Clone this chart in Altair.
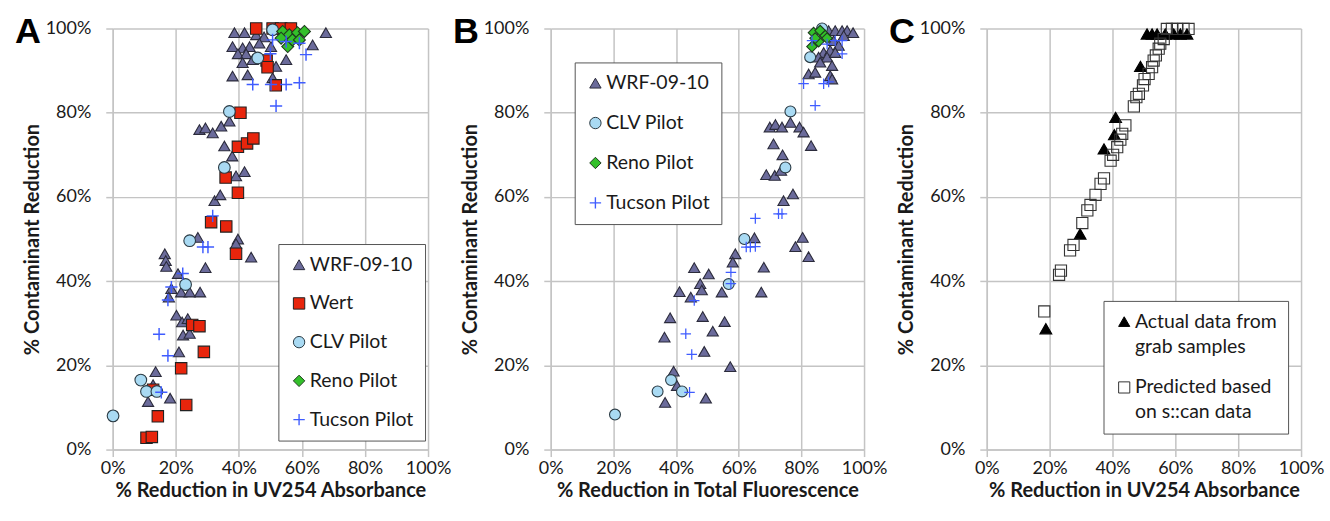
import altair as alt
import pandas as pd

# ---------------- Panel A : % Reduction in UV254 Absorbance ----------------
A_WRF_X = [38.6, 41.8, 45.5, 48, 67.6, 38, 41.2, 43.4, 39.7, 42.3, 46.5, 50.2, 41.2, 44.4, 63.4,
           55, 51.8, 38, 42.8, 50.7, 27.5, 29.4, 31.7, 34.4, 37, 35.4, 37.9, 39.1, 41.8, 32.3,
           34.1, 27, 39.7, 43.9, 39.1, 29.4, 16.5, 16.8, 17, 20.7, 18.6, 21.7, 24.4, 27.7, 17.8,
           20.2, 22, 23.8, 22.3, 24.4, 21, 13.6, 12.8, 11.2, 18.2]
A_WRF_Y = [99, 99, 98.5, 98, 99, 95.7, 95.4, 95.7, 94, 94, 96.5, 95.7, 91.9, 92.6, 96.1,
           92.6, 91, 88.7, 89, 88.3, 76, 76.4, 75.2, 76.8, 78, 72.1, 69.7, 65, 66, 59.1,
           60.5, 50.4, 50, 45.7, 48.9, 43.2, 46.5, 44.9, 43.5, 41.8, 38.2, 37.4, 37.4, 37.4, 36.2,
           31.9, 30.3, 31.1, 27.2, 27.6, 23.2, 18.5, 15.4, 11.4, 12.2]
A_WERT_X = [45.5, 50.7, 53.4, 56.5, 48.8, 49.1, 51.7, 40.5, 39.7, 42.6, 44.6, 35.8, 39.7, 31.2, 36,
            39.1, 25.2, 27.5, 28.9, 21.7, 23.3, 14.3, 10.7, 12.4, 12.8]
A_WERT_Y = [100, 100, 100, 100, 92.4, 90.8, 86.5, 80, 71.9, 72.7, 73.9, 64.6, 61, 54, 53,
            46.5, 29.6, 29.3, 23.2, 19.3, 10.6, 7.9, 2.8, 3, 14.2]
A_CLV_X = [50.7, 46, 37, 35.4, 24.4, 23.1, 8.9, 10.7, 14, 0.1]
A_CLV_Y = [99.7, 93, 80.3, 67, 49.6, 39.2, 16.5, 13.8, 13.8, 8]
A_RENO_X = [53.9, 56, 58.6, 60.8, 55.5, 57, 59.2, 53.4]
A_RENO_Y = [99.3, 98.5, 99, 99.3, 95.7, 97.3, 97.3, 97.7]
A_TUC_X = [50.7, 55, 59.2, 61.3, 50, 44.4, 50.2, 55, 59.2, 51.8, 31.7, 28.6, 30.2, 22.2, 18.6,
           17.5, 14.7, 17.5, 15.4]
A_TUC_Y = [97.3, 96.9, 96.5, 93.8, 94, 86.7, 86.7, 86.7, 87.1, 81.6, 55.5, 48.1, 48.1, 41.8, 38.6,
           35.5, 27.4, 22.3, 13.6]

# ---------------- Panel B : % Reduction in Total Fluorescence ----------------
B_WRF_X = [69.9, 71.7, 73.8, 76.5, 79.4, 80.7, 83.1, 71.1, 74, 68.8, 71.5, 73.5, 74.3, 77.3, 80.4,
           78.1, 82.3, 65, 58.9, 58.1, 68, 67.2, 45.8, 50.4, 47.7, 48.2, 41.1, 44.7, 54.6, 38.1,
           48.5, 55.5, 36.3, 51.7, 49, 57.3, 39.2, 40.3, 36.5, 49.5,
           88.7, 90.8, 93, 94.6, 96.5, 93.5, 90.3, 91.9, 87.1, 89.2, 85.5, 88.2, 86, 89.8, 82.3,
           84.4, 89.2, 90.8, 89.8]
B_WRF_Y = [76.6, 77.2, 76.6, 77.7, 76.6, 75.4, 72.2, 72.6, 70, 65.3, 65.1, 66.3, 59.1, 60.7, 50.4,
           48.2, 45.8, 50.3, 46.5, 44.5, 43.3, 37.4, 43.2, 41.7, 39.4, 37.9, 37.5, 36.2, 37.4, 31.3,
           31.6, 30.4, 26.7, 28.1, 23.3, 19.7, 18.6, 15.2, 11.2, 12.2,
           99.5, 99.5, 99.5, 99.5, 99, 98.3, 97.1, 96, 94.3, 94.8, 93.2, 93.2, 92, 91.2, 89.2,
           89.6, 88.8, 94.3, 88]
B_CLV_X = [86.6, 82.8, 76.5, 74.9, 61.8, 56.8, 38.4, 34.1, 41.9, 20.5]
B_CLV_Y = [100, 93.2, 80.3, 67, 50, 39.3, 16.5, 13.8, 13.8, 8.3]
B_RENO_X = [83.9, 86, 87.6, 83.4, 85.5, 88.2, 84.4]
B_RENO_Y = [99, 99.5, 98.3, 95.7, 96.9, 97.7, 97.7]
B_TUC_X = [83.4, 88.2, 90.8, 93, 93, 80.7, 87.1, 88.7, 84.4, 65.3, 72.7, 73.8, 62.4, 63.7, 65.3,
           57.5, 57.5, 45.8, 43.1, 45, 44.3]
B_TUC_Y = [97.1, 96.3, 97.1, 97.1, 94, 86.9, 86.9, 87.3, 81.7, 54.9, 56, 56, 48.1, 48.1, 48.2,
           42.1, 39.4, 35.4, 27.5, 22.6, 13.6]

# ---------------- Panel C : actual vs predicted ----------------
C_ACT_X = [51, 52.6, 54.2, 56.8, 59.5, 61.6, 63.7, 48.9, 41, 40.6, 37.3, 29.7, 18.8]
C_ACT_Y = [98.7, 98.7, 98.7, 98.7, 98.7, 98.7, 98.7, 91, 78.9, 74.8, 71.4, 51.2, 28.7]
C_PRED_X = [18.3, 23, 23.6, 26.5, 27.6, 30.4, 32, 33, 34.6, 36.2, 37.3, 39.4, 40.2, 41.5, 42.5,
            43.1, 44.1, 46.8, 47.6, 48.4, 49.7, 50.2, 51.5, 52.6, 53.1, 53.8, 54.7, 56.3, 57.3, 58.9,
            60.5, 62.6, 64.2, 55.2]
C_PRED_Y = [32.8, 41.5, 42.5, 47.3, 48.6, 53.8, 56.8, 58.1, 60.5, 63.1, 64.4, 68.6, 70, 71.8, 73.6,
            75, 77, 81.5, 83.7, 84.5, 86.5, 88, 89.2, 90.8, 92.4, 93.6, 95.2, 97.5, 99.9, 99.9,
            99.9, 99.9, 99.9, 96.4]

TICKS = [0, 20, 40, 60, 80, 100]
SERIES_A = ["WRF-09-10", "Wert", "CLV Pilot", "Reno Pilot", "Tucson Pilot"]
SERIES_B = ["WRF-09-10", "CLV Pilot", "Reno Pilot", "Tucson Pilot"]
SERIES_C = ["Actual data from|grab samples", "Predicted based|on s::can data"]
X_TITLES = ["% Reduction in UV254 Absorbance", "% Reduction in Total Fluorescence",
            "% Reduction in UV254 Absorbance"]
Y_TITLE = "% Contaminant Reduction"
LETTERS = ["A", "B", "C"]

# thin filled cross for the Tucson series
PLUS = "M-1,-0.12H-0.12V-1H0.12V-0.12H1V0.12H0.12V1H-0.12V0.12H-1Z"
STYLE = {
    "WRF-09-10": ("triangle-up", "#6b6b9b", "#2b2b3b", 125),
    "Wert": ("square", "#e8250c", "#222222", 150),
    "CLV Pilot": ("circle", "#a9daf3", "#2b3b44", 110),
    "Reno Pilot": ("diamond", "#33c02a", "#1f3a1f", 140),
    "Tucson Pilot": (PLUS, "#3f5cff", "transparent", 175),
    "Actual data from|grab samples": ("triangle-up", "#000000", "#000000", 140),
    "Predicted based|on s::can data": ("square", "transparent", "#333333", 125),
}

GRID = "#c4c4c4"
FONT = "Lato"


def frame(pairs, names):
    rows = []
    for (xs, ys), name in zip(pairs, names):
        for xv, yv in zip(xs, ys):
            rows.append({"x": xv, "y": yv, "series": name, "grp": name + "#"})
    return pd.DataFrame(rows)


def panel(df, domain, xtitle, letter, width, lx, ly, row_pad, label_expr=None,
          label_baseline="middle", sym_size=130):
    leg_kwargs = dict(orient="none", legendX=lx, legendY=ly, title=None,
                      strokeColor="#555555", fillColor="white", padding=11,
                      rowPadding=row_pad, labelFont=FONT, labelFontSize=19.5,
                      labelColor="#1a1a1a", symbolSize=sym_size, labelOffset=1,
                      symbolStrokeWidth=1, labelBaseline=label_baseline)
    if label_expr:
        leg_kwargs["labelExpr"] = label_expr
    leg = alt.Legend(**leg_kwargs)
    shapes = [STYLE[s][0] for s in domain]
    fills = [STYLE[s][1] for s in domain]
    strokes = [STYLE[s][2] for s in domain]
    sizes = [STYLE[s][3] for s in domain]
    xaxis = alt.Axis(values=TICKS, labelExpr="datum.value + '%'", title=xtitle,
                     labelPadding=3, titlePadding=3, labelOverlap=False, labelFlush=False)
    yaxis = alt.Axis(values=TICKS, labelExpr="datum.value + '%'", title=Y_TITLE,
                     labelPadding=15, titlePadding=3, labelOverlap=False, labelFlush=False)
    pts = alt.Chart(df).mark_point(opacity=1, fillOpacity=1, strokeWidth=1.1).encode(
        x=alt.X("x:Q", scale=alt.Scale(domain=[0, 100], nice=False), axis=xaxis),
        y=alt.Y("y:Q", scale=alt.Scale(domain=[0, 100], nice=False), axis=yaxis),
        shape=alt.Shape("series:N", scale=alt.Scale(domain=domain, range=shapes), legend=leg),
        fill=alt.Fill("series:N", scale=alt.Scale(domain=domain, range=fills), legend=leg),
        stroke=alt.Stroke("series:N", scale=alt.Scale(domain=domain, range=strokes), legend=leg),
        size=alt.Size("grp:N", scale=alt.Scale(domain=[d + "#" for d in domain], range=sizes),
                      legend=None),
    )
    lab = alt.Chart(pd.DataFrame({"letter": [letter]})).mark_text(
        font="Liberation Sans", fontSize=36, fontWeight="bold", color="black",
        align="center", baseline="middle"
    ).encode(x=alt.value(-85), y=alt.value(4), text="letter:N")
    return alt.layer(pts, lab).properties(width=width, height=422)


dfA = frame([(A_WRF_X, A_WRF_Y), (A_WERT_X, A_WERT_Y), (A_CLV_X, A_CLV_Y),
             (A_RENO_X, A_RENO_Y), (A_TUC_X, A_TUC_Y)], SERIES_A)
dfB = frame([(B_WRF_X, B_WRF_Y), (B_CLV_X, B_CLV_Y), (B_RENO_X, B_RENO_Y),
             (B_TUC_X, B_TUC_Y)], SERIES_B)
dfC = frame([(C_ACT_X, C_ACT_Y), (C_PRED_X, C_PRED_Y)], SERIES_C)

pA = panel(dfA, SERIES_A, X_TITLES[0], LETTERS[0], 316, 166, 216, 17.8)
pB = panel(dfB, SERIES_B, X_TITLES[1], LETTERS[1], 314, 24, 34, 19)
pC = panel(dfC, SERIES_C, X_TITLES[2], LETTERS[2], 315, 117, 273, 20,
           label_expr="split(datum.label, '|')", label_baseline="middle", sym_size=125)

chart = alt.hconcat(pA, pB, pC, spacing=123, bounds="flush").resolve_scale(
    shape="independent", fill="independent", stroke="independent", size="independent"
).resolve_legend(
    shape="independent", fill="independent", stroke="independent"
).properties(
    padding={"left": 14, "top": 13, "right": 5, "bottom": 5},
    background="white"
).configure(
    style={"guide-label": {"lineHeight": 25}}
).configure_view(
    stroke="transparent"
).configure_axis(
    grid=True, gridColor=GRID, gridWidth=1.5, domainColor=GRID, domainWidth=1.5,
    tickColor=GRID, tickWidth=1.5, tickSize=7,
    labelFont=FONT, labelFontSize=18, labelColor="#1a1a1a",
    titleFont=FONT, titleFontSize=20, titleFontWeight="bold", titleColor="#1a1a1a"
)

chart.save("out.html", embed_options={"renderer": "svg", "actions": False})
